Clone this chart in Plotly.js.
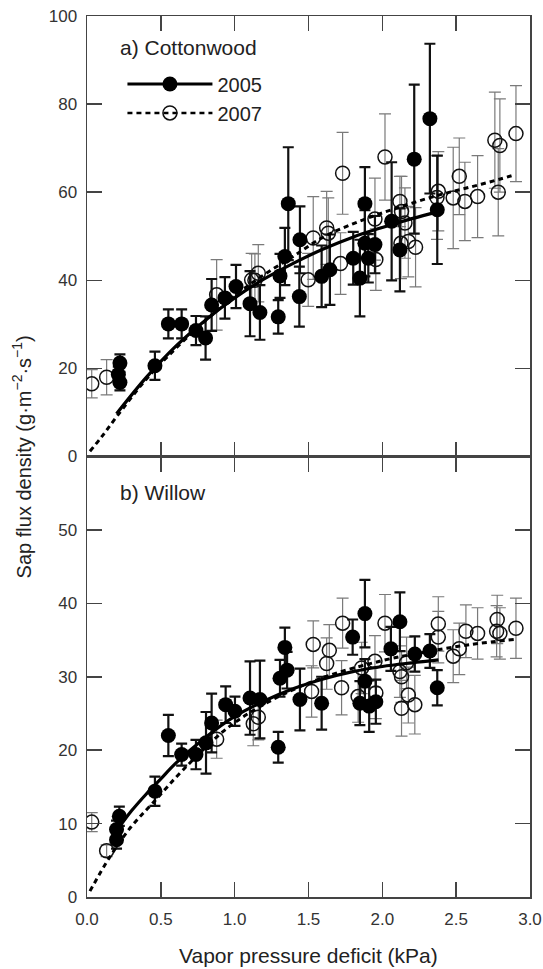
<!DOCTYPE html>
<html>
<head>
<meta charset="utf-8">
<script src="https://cdn.plot.ly/plotly-3.0.1.min.js"></script>
<style>html,body{margin:0;padding:0;background:#fff;}#chart{width:543px;height:969px;}</style>
</head>
<body>
<div id="chart"></div>
<script>
// ---- (a) Cottonwood, 2005 ----
var cw05X = [0.212,0.223,0.223,0.46,0.551,0.641,0.738,0.803,0.844,0.934,1.009,1.104,1.171,1.295,1.307,1.34,1.363,1.438,1.442,1.589,1.645,1.803,1.848,1.882,1.882,1.905,1.95,2.063,2.119,2.216,2.322,2.372];
var cw05Y = [18.6,16.8,21.2,20.6,30.1,30.1,28.6,26.9,34.4,36.0,38.6,34.7,32.7,31.7,41.0,45.4,57.4,36.3,49.2,40.9,42.4,45.0,40.5,48.4,57.4,45.0,48.1,53.4,46.9,67.5,76.7,56.0];
var cw05E = [1.8,1.8,2.0,3.2,3.3,3.3,3.3,4.9,5.9,4.7,4.9,7.4,6.2,3.8,5.0,6.5,12.8,6.8,7.6,7.0,8.0,6.0,8.7,7.5,8.3,5.5,6.5,13.4,9.4,16.9,17.0,12.3];
// ---- (a) Cottonwood, 2007 ----
var cw07X = [0.032,0.133,0.878,1.115,1.137,1.16,1.498,1.532,1.623,1.634,1.717,1.731,1.95,1.956,2.018,2.119,2.126,2.13,2.153,2.176,2.225,2.379,2.37,2.48,2.521,2.559,2.645,2.762,2.785,2.796,2.905];
var cw07Y = [16.5,18.0,36.7,40.1,40.0,41.6,40.1,49.6,51.9,50.7,43.8,64.3,53.9,44.7,68.0,57.9,48.4,55.6,53.0,48.8,47.5,60.2,58.8,58.7,63.6,57.9,59.0,71.8,60.0,70.6,73.3];
var cw07E = [3.2,4.0,8.0,6.0,6.0,6.5,6.0,9.4,8.3,8.0,7.0,9.3,9.3,7.0,9.8,5.7,8.0,8.0,8.0,8.0,9.0,9.0,9.5,11.5,8.7,8.9,9.3,10.9,9.9,10.6,10.9];
// ---- (a) fitted curves ----
var cwFit05X = [0.2,0.4,0.6,0.8,1.0,1.2,1.4,1.6,1.8,2.0,2.2,2.38];
var cwFit05Y = [9.7,17.9,25.0,30.9,36.0,40.3,43.9,47.1,49.8,52.0,54.0,55.6];
var cwFit07X = [0.02,0.1,0.2,0.4,0.6,0.8,1.0,1.2,1.4,1.6,1.8,2.0,2.2,2.4,2.6,2.8,2.9];
var cwFit07Y = [1.2,4.5,9.0,17.5,24.5,30.8,36.5,41.3,45.5,49.8,52.8,55.3,57.5,59.5,61.2,63.0,64.0];

// ---- (b) Willow, 2005 ----
var wi05X = [0.2,0.2,0.219,0.46,0.551,0.641,0.738,0.806,0.844,0.939,1.002,1.104,1.171,1.295,1.307,1.34,1.355,1.442,1.589,1.799,1.848,1.882,1.882,1.911,1.956,2.058,2.119,2.22,2.322,2.372];
var wi05Y = [7.8,9.2,11.0,14.4,22.0,19.4,19.4,21.0,23.7,26.2,25.3,27.1,26.9,20.4,29.8,34.0,30.9,26.9,26.4,35.4,26.4,29.4,38.6,26.0,26.6,33.8,37.5,33.1,33.5,28.5];
var wi05E = [1.2,1.2,1.3,2.0,2.8,1.5,2.0,4.2,4.0,2.5,2.0,5.0,5.3,2.1,2.5,2.7,2.5,4.2,3.6,2.4,3.0,3.0,4.6,3.5,3.0,3.0,4.0,2.4,2.3,2.4];
// ---- (b) Willow, 2007 ----
var wi07X = [0.032,0.133,0.878,1.126,1.16,1.521,1.532,1.623,1.641,1.724,1.731,1.836,1.86,1.95,1.956,2.018,2.119,2.13,2.13,2.164,2.176,2.22,2.379,2.379,2.48,2.521,2.566,2.645,2.774,2.778,2.796,2.905];
var wi07Y = [10.2,6.3,21.5,23.6,24.5,28.0,34.4,31.8,33.6,28.5,37.3,27.3,31.2,32.1,27.8,37.3,30.7,30.0,25.7,31.9,27.5,26.2,35.4,37.2,32.8,33.8,36.2,35.9,36.2,37.8,35.9,36.6];
var wi07E = [1.3,0.8,2.6,3.0,3.1,3.5,3.2,3.5,3.5,3.7,3.4,3.5,3.5,3.5,3.5,3.9,3.5,3.5,3.8,3.5,3.8,4.0,3.5,3.7,3.6,3.5,3.6,3.5,3.5,3.3,3.5,4.1];
// ---- (b) fitted curves ----
var wiFit05X = [0.2,0.3,0.4,0.5,0.6,0.8,1.0,1.2,1.4,1.6,1.8,2.0,2.2,2.38];
var wiFit05Y = [9.0,11.7,14.0,16.1,18.2,21.7,24.6,26.7,28.4,29.7,30.7,31.4,31.9,32.3];
var wiFit07X = [0.02,0.15,0.3,0.45,0.65,0.95,1.25,1.6,2.0,2.3,2.6,2.9];
var wiFit07Y = [0.8,5.3,9.6,12.9,17.3,23.0,26.8,29.9,32.2,33.4,34.4,35.1];

var xTicks = [0,0.5,1.0,1.5,2.0,2.5,3.0];
var xTickText = ['0.0','0.5','1.0','1.5','2.0','2.5','3.0'];
var topYTicks = [0,20,40,60,80,100];
var botYTicks = [0,10,20,30,40,50];
var seriesNames = ['2005','2007'];

var FONT = 'Liberation Sans, Arial, Helvetica, sans-serif';
var AX = '#444';

function pts(x, y, e, filled, xa, ya) {
  return {
    type: 'scatter', mode: 'markers', x: x, y: y, xaxis: xa, yaxis: ya,
    showlegend: false, hoverinfo: 'skip',
    error_y: {type: 'data', array: e, visible: true,
      color: filled ? '#111' : '#7a7a7a', thickness: filled ? 2.2 : 1.2, width: filled ? 5.5 : 6},
    marker: filled ? {symbol: 'circle', size: 15, color: '#000'}
                   : {symbol: 'circle-open', size: 14, color: '#111', line: {width: 1.5, color: '#111'}}
  };
}
function fit(x, y, solid, xa, ya) {
  return {
    type: 'scatter', mode: 'lines', x: x, y: y, xaxis: xa, yaxis: ya,
    showlegend: false, hoverinfo: 'skip',
    line: {color: '#000', width: solid ? 3.2 : 3, dash: solid ? 'solid' : '5px,4px', shape: 'spline', smoothing: 1}
  };
}

var data = [
  pts(cw07X, cw07Y, cw07E, false, 'x2', 'y2'),
  pts(cw05X, cw05Y, cw05E, true, 'x2', 'y2'),
  fit(cwFit07X, cwFit07Y, false, 'x2', 'y2'),
  fit(cwFit05X, cwFit05Y, true, 'x2', 'y2'),
  pts(wi07X, wi07Y, wi07E, false, 'x', 'y'),
  pts(wi05X, wi05Y, wi05E, true, 'x', 'y'),
  fit(wiFit07X, wiFit07Y, false, 'x', 'y'),
  fit(wiFit05X, wiFit05Y, true, 'x', 'y'),
  // legend entries
  {type: 'scatter', mode: 'lines+markers', x: [null], y: [null], xaxis: 'x2', yaxis: 'y2', name: seriesNames[0],
   line: {color: '#000', width: 3}, marker: {symbol: 'circle', size: 15, color: '#000'}},
  {type: 'scatter', mode: 'lines+markers', x: [null], y: [null], xaxis: 'x2', yaxis: 'y2', name: seriesNames[1],
   line: {color: '#000', width: 2.5, dash: '5px,4px'}, marker: {symbol: 'circle-open', size: 14, color: '#111', line: {width: 1.5}}}
];

var axCommon = {
  showgrid: false, zeroline: false, showline: true, linecolor: AX, linewidth: 1.5,
  mirror: 'ticks', ticks: 'inside', ticklen: 15, tickwidth: 1.5, tickcolor: AX,
  tickfont: {family: FONT, size: 17, color: '#333'}
};

var layout = Object.assign({
  width: 543, height: 969,
  margin: {l: 87, r: 13, t: 16, b: 72},
  paper_bgcolor: '#fff', plot_bgcolor: '#fff',
  font: {family: FONT, color: '#222'},
  showlegend: true,
  legend: {x: 0.080, y: 0.945, xanchor: 'left', yanchor: 'top', itemwidth: 85,
           font: {family: FONT, size: 20, color: '#222'}, bgcolor: 'rgba(0,0,0,0)', traceorder: 'normal'},
  annotations: [
    {xref: 'paper', yref: 'paper', x: 0.070, y: 0.964, xanchor: 'left', yanchor: 'middle', showarrow: false,
     text: 'a) Cottonwood', font: {family: FONT, size: 21, color: '#222'}},
    {xref: 'paper', yref: 'paper', x: 0.070, y: 0.459, xanchor: 'left', yanchor: 'middle', showarrow: false,
     text: 'b) Willow', font: {family: FONT, size: 21, color: '#222'}},
    {xref: 'paper', yref: 'paper', x: -0.147, y: 0.5, xanchor: 'center', yanchor: 'middle', showarrow: false, textangle: -90,
     text: 'Sap flux density (g·m<sup>−2</sup>·s<sup>−1</sup>)', font: {family: FONT, size: 20, color: '#222'}},
    {xref: 'paper', yref: 'paper', x: 0.5, y: -0.066, xanchor: 'center', yanchor: 'middle', showarrow: false,
     text: 'Vapor pressure deficit (kPa)', font: {family: FONT, size: 21, color: '#222'}}
  ]
}, {
  xaxis: Object.assign({}, axCommon, {domain: [0, 1], anchor: 'y', range: [0, 3], tickvals: xTicks, ticktext: xTickText, ticklabelstandoff: 6}),
  xaxis2: Object.assign({}, axCommon, {domain: [0, 1], anchor: 'y2', range: [0, 3], matches: 'x', tickvals: xTicks, showticklabels: false}),
  yaxis: Object.assign({}, axCommon, {domain: [0, 0.5], anchor: 'x', range: [0, 60], tickvals: botYTicks, ticklabelstandoff: 5}),
  yaxis2: Object.assign({}, axCommon, {domain: [0.5, 1], anchor: 'x2', range: [0, 100], tickvals: topYTicks, ticklabelstandoff: 5})
});

Plotly.newPlot('chart', data, layout, {displayModeBar: false, staticPlot: true});
</script>
</body>
</html>
